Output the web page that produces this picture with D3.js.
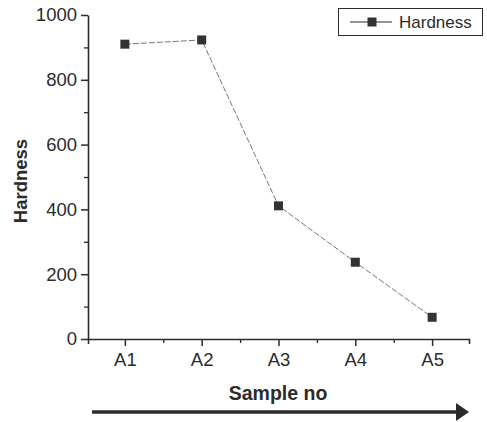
<!DOCTYPE html>
<html><head><meta charset="utf-8">
<script src="https://cdn.jsdelivr.net/npm/d3@7"></script>
<style>body{margin:0;background:#fff}svg{display:block}text{font-family:"Liberation Sans",Arial,sans-serif}</style>
</head><body>
<svg id="c" width="487" height="422"></svg>
<script>
const categories = ["A1","A2","A3","A4","A5"];
const hardness = [910, 923, 411, 237, 67];
const yTicks = [0,200,400,600,800,1000];
const yMinor = [100,300,500,700,900];
const seriesName = "Hardness";
const xTitle = "Sample no";
const yTitle = "Hardness";

const ink = "#2b2b2b";
const svg = d3.select("#c");
const x = d3.scaleLinear().domain([0.52, 5.48]).range([88, 469]);
const y = d3.scaleLinear().domain([0, 1000]).range([339, 15]);

// minor ticks
const gxm = svg.append("g").attr("transform","translate(0,339)")
  .call(d3.axisBottom(x).tickValues(categories.map((d,i)=>i+1.5).slice(0,4)).tickSize(4).tickSizeOuter(0).tickFormat(""));
const gym = svg.append("g").attr("transform","translate(88,0)")
  .call(d3.axisLeft(y).tickValues(yMinor).tickSize(4).tickSizeOuter(0).tickFormat(""));
[gxm,gym].forEach(g=>{g.select(".domain").remove();g.selectAll("line").attr("stroke",ink).attr("stroke-width",1.3);});

const gx = svg.append("g").attr("transform","translate(0,339)")
  .call(d3.axisBottom(x).tickValues(categories.map((d,i)=>i+1)).tickFormat((d)=>categories[d-1]).tickSize(7).tickSizeOuter(5).tickPadding(7));
const gy = svg.append("g").attr("transform","translate(88,0)")
  .call(d3.axisLeft(y).tickValues(yTicks).tickFormat(d3.format("d")).tickSize(7).tickSizeOuter(0).tickPadding(4));
[gx,gy].forEach(g=>{
  g.select(".domain").attr("stroke",ink).attr("stroke-width",1.6);
  g.selectAll(".tick line").attr("stroke",ink).attr("stroke-width",1.5);
  g.selectAll(".tick text").attr("fill",ink).attr("font-size",18.5);
});

// line
const pts = hardness.map((v,i)=>[x(i+1), y(v)]);
svg.append("path").attr("d", d3.line()(pts)).attr("fill","none")
  .attr("stroke","#777").attr("stroke-width",1).attr("stroke-dasharray","6,2");
svg.selectAll("rect.m").data(hardness).join("rect").attr("class","m")
  .attr("x",(d,i)=>x(i+1)-4.5).attr("y",d=>y(d)-4.5).attr("width",9).attr("height",9).attr("fill","#333");

// legend
const lg = svg.append("g");
lg.append("rect").attr("x",338.5).attr("y",8.5).attr("width",144).attr("height",27).attr("fill","#fff").attr("stroke",ink).attr("stroke-width",1);
lg.append("line").attr("x1",350).attr("x2",392).attr("y1",22).attr("y2",22).attr("stroke",ink).attr("stroke-width",1.2);
lg.append("rect").attr("x",367.5).attr("y",17.5).attr("width",9).attr("height",9).attr("fill","#333");
lg.append("text").attr("x",399).attr("y",28).attr("font-size",17).attr("fill",ink).text(seriesName);

// axis titles
svg.append("text").attr("transform","translate(27,181) rotate(-90)").attr("text-anchor","middle")
  .attr("font-size",18.5).attr("font-weight","bold").attr("fill",ink).text(yTitle);
svg.append("text").attr("x",278).attr("y",400).attr("text-anchor","middle")
  .attr("font-size",19.5).attr("font-weight","bold").attr("fill",ink).text(xTitle);

// arrow
svg.append("line").attr("x1",92).attr("x2",458).attr("y1",412).attr("y2",412).attr("stroke",ink).attr("stroke-width",3.5);
svg.append("path").attr("d","M456,403 L469,412 L456,421 Z").attr("fill",ink);
</script>
</body></html>
